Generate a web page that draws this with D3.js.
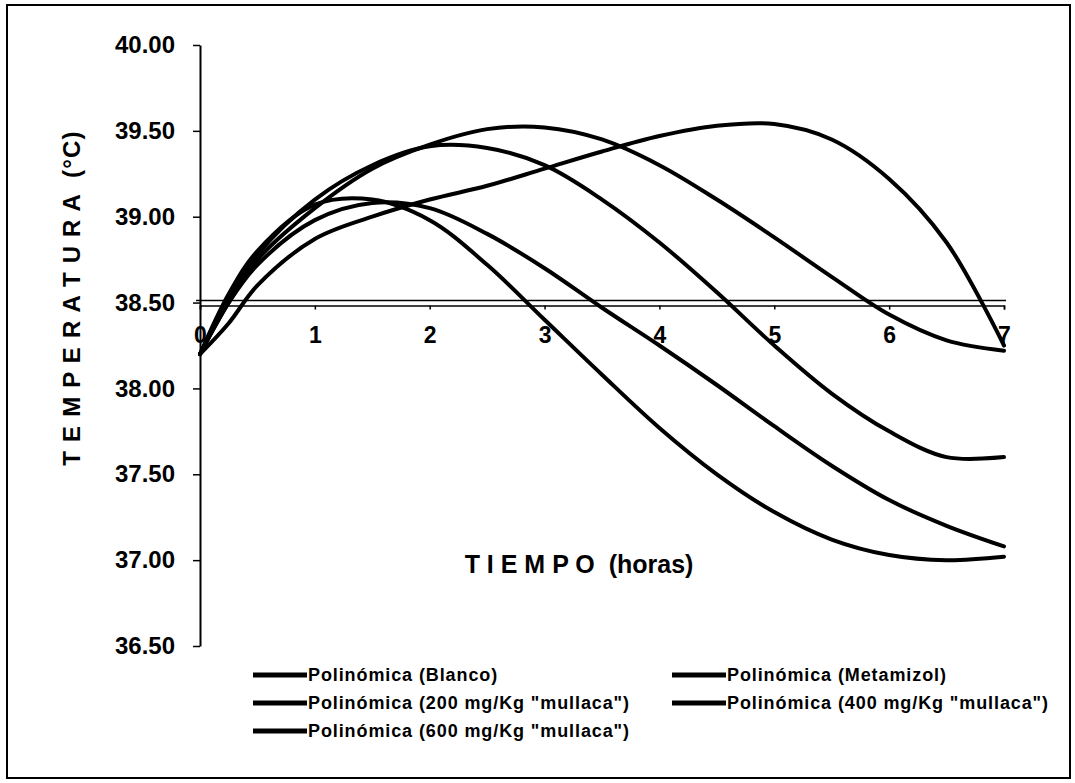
<!DOCTYPE html>
<html>
<head>
<meta charset="utf-8">
<script src="https://cdn.jsdelivr.net/npm/d3@7"></script>
<style>
  body { margin: 0; background: #fff; }
  svg { display: block; font-family: "Liberation Sans", Arial, sans-serif; font-weight: bold; }
  text { white-space: pre; }
</style>
</head>
<body>
<svg id="chart" width="1075" height="783"></svg>
<script>
// horas
const hours = [0, 0.25, 0.5, 1, 1.5, 2, 2.5, 3, 3.5, 4, 4.5, 5, 5.5, 6, 6.5, 7];

// temperatura (°C)
const blanco     = [38.2, 38.38, 38.6, 38.87, 39.0, 39.1, 39.18, 39.28, 39.38, 39.47, 39.53, 39.54, 39.45, 39.22, 38.85, 38.25];
const metamizol  = [38.2, 38.55, 38.8, 39.07, 39.1, 38.98, 38.72, 38.4, 38.08, 37.77, 37.5, 37.28, 37.12, 37.03, 37.0, 37.02];
const mullaca200 = [38.2, 38.5, 38.72, 38.98, 39.08, 39.05, 38.9, 38.7, 38.47, 38.25, 38.02, 37.78, 37.55, 37.35, 37.2, 37.08];
const mullaca400 = [38.2, 38.52, 38.78, 39.1, 39.3, 39.41, 39.4, 39.3, 39.1, 38.85, 38.56, 38.25, 37.97, 37.75, 37.6, 37.6];
const mullaca600 = [38.2, 38.5, 38.75, 39.05, 39.28, 39.42, 39.51, 39.52, 39.45, 39.3, 39.1, 38.88, 38.65, 38.43, 38.28, 38.22];

const seriesNames = [
  'Polinómica (Blanco)',
  'Polinómica (Metamizol)',
  'Polinómica (200 mg/Kg "mullaca")',
  'Polinómica (400 mg/Kg "mullaca")',
  'Polinómica (600 mg/Kg "mullaca")'
];
const seriesValues = [blanco, metamizol, mullaca200, mullaca400, mullaca600];

const yTicks = [36.5, 37, 37.5, 38, 38.5, 39, 39.5, 40];
const xTicks = [0, 1, 2, 3, 4, 5, 6, 7];

const svg = d3.select('#chart');

svg.append('rect')
  .attr('x', 7).attr('y', 5)
  .attr('width', 1063).attr('height', 773)
  .attr('fill', 'none')
  .attr('stroke', '#000')
  .attr('stroke-width', 2);

const x = d3.scaleLinear().domain([0, 7]).range([200, 1004]);
const y = d3.scaleLinear().domain([36.5, 40]).range([646, 45]);

// eje Y
const yAxis = svg.append('g')
  .attr('transform', 'translate(200,0)')
  .call(d3.axisLeft(y).tickValues(yTicks).tickSize(7).tickSizeOuter(0).tickPadding(18).tickFormat(d3.format('.2f')));
yAxis.select('.domain').attr('stroke-width', 2);
yAxis.selectAll('.tick line').attr('stroke-width', 1.5);
yAxis.selectAll('.tick text')
  .attr('font-size', 24)
  .attr('font-weight', 'bold')
  .attr('font-family', '"Liberation Sans", Arial, sans-serif')
  .attr('fill', '#000');

// eje X (linea doble en 38.5)
const y0 = y(38.5);
svg.append('line')
  .attr('x1', 196).attr('x2', 1006)
  .attr('y1', y0 - 2).attr('y2', y0 - 2)
  .attr('stroke', '#000').attr('stroke-width', 1.6);

const xAxis = svg.append('g')
  .attr('transform', `translate(0,${y0 + 3})`)
  .call(d3.axisBottom(x).tickValues(xTicks).tickSize(4).tickSizeOuter(4).tickPadding(17).tickFormat(d3.format('d')));
xAxis.select('.domain').attr('stroke-width', 1.6);
xAxis.selectAll('.tick line').attr('stroke-width', 1.5);
xAxis.selectAll('.tick text')
  .attr('font-size', 23)
  .attr('font-weight', 'bold')
  .attr('font-family', '"Liberation Sans", Arial, sans-serif')
  .attr('fill', '#000');

// curvas
const line = d3.line()
  .x((d, i) => x(hours[i]))
  .y(d => y(d))
  .curve(d3.curveCatmullRom.alpha(0.5));

svg.append('g')
  .selectAll('path')
  .data(seriesValues)
  .join('path')
  .attr('d', line)
  .attr('fill', 'none')
  .attr('stroke', '#000')
  .attr('stroke-width', 4)
  .attr('stroke-linecap', 'round');

// titulos
svg.append('text')
  .attr('transform', 'translate(80,298) rotate(-90)')
  .attr('text-anchor', 'middle')
  .attr('font-size', 24)
  .attr('letter-spacing', 1.2)
  .text('T E M P E R A T U R A  (°C)');

svg.append('text')
  .attr('x', 579).attr('y', 573)
  .attr('text-anchor', 'middle')
  .attr('font-size', 25)
  .text('T I E M P O  (horas)');

// leyenda
const legendPos = [
  [253, 675], [672, 675],
  [253, 703], [672, 703],
  [253, 731]
];
const order = [0, 1, 2, 3, 4];
const legend = svg.append('g')
  .selectAll('g')
  .data(order)
  .join('g')
  .attr('transform', (d, i) => `translate(${legendPos[i][0]},${legendPos[i][1]})`);

legend.append('line')
  .attr('x1', 0).attr('x2', 54)
  .attr('stroke', '#000')
  .attr('stroke-width', 5);

legend.append('text')
  .attr('x', 55)
  .attr('dy', '0.35em')
  .attr('font-size', 18)
  .attr('letter-spacing', 0.9)
  .text(d => seriesNames[d]);
</script>
</body>
</html>
